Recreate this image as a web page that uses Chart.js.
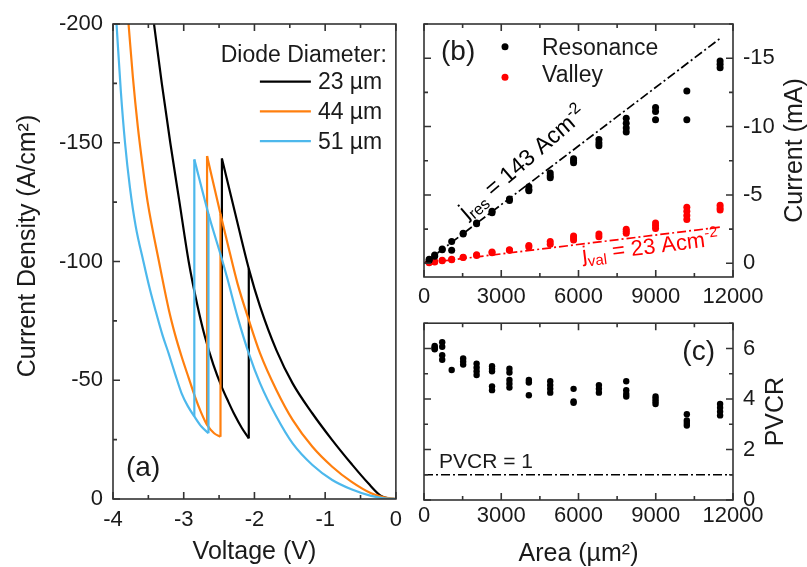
<!DOCTYPE html>
<html>
<head>
<meta charset="utf-8">
<script src="https://cdn.jsdelivr.net/npm/chart.js@4.4.0/dist/chart.umd.min.js"></script>
<style>
  html, body { margin: 0; padding: 0; background: #fff; overflow: hidden; }
  body { width: 807px; height: 567px; position: relative; }
  canvas { position: absolute; }
</style>
</head>
<body>
<canvas id="ivChart" width="410" height="567" style="left:0;top:0"></canvas>
<canvas id="currentChart" width="397" height="310" style="left:410px;top:0"></canvas>
<canvas id="pvcrChart" width="397" height="272" style="left:410px;top:300px"></canvas>
<script>
// ---- (a) J-V sweeps for three mesa diameters ----
const diameters = ['23 µm', '44 µm', '51 µm'];
const lineColors = ['#000000', '#ff7f0e', '#4db8ec'];

// low-bias branch: 0 V out to the resonance peak
const lowV23 = [0, -0.1, -0.21, -0.39, -0.62, -0.9, -1.18, -1.46, -1.69, -1.92, -2.08, -2.27, -2.46];
const lowJ23 = [0, -0.2, -1.3, -6.6, -14.5, -24.8, -36, -48.7, -62.7, -81, -97, -120, -143.4];
// high-bias branch: top of the plot down to the valley
const highV23 = [-3.42, -3.31, -3.19, -3.06, -2.93, -2.81, -2.7, -2.58, -2.46, -2.37, -2.29, -2.18, -2.08];
const highJ23 = [-200, -175, -150, -125, -100, -82, -68.3, -56.5, -47, -41, -36, -30, -25.5];

const lowV44 = [0, -0.17, -0.35, -0.63, -0.9, -1.18, -1.46, -1.69, -1.92, -2.08, -2.24, -2.38, -2.48, -2.67];
const lowJ44 = [0, -0.7, -2.4, -7.3, -13.6, -22, -33.3, -45.9, -61.3, -75.4, -90.8, -107.6, -120, -144.4];
const highV44 = [-3.78, -3.72, -3.65, -3.58, -3.51, -3.35, -3.21, -3.12, -3.03, -2.93, -2.84, -2.755, -2.67, -2.57, -2.48];
const highJ44 = [-200, -178, -157, -140, -125, -100, -79.6, -69, -60, -51, -43, -36.5, -31.2, -27.7, -26.2];

const lowV51 = [0, -0.17, -0.35, -0.63, -0.9, -1.18, -1.46, -1.69, -1.92, -2.08, -2.24, -2.38, -2.45, -2.65, -2.85];
const lowJ51 = [0, -0.3, -1.3, -4.1, -8, -14.3, -23.4, -34.7, -48.7, -61.3, -76.8, -92.5, -100, -120, -143];
const highV51 = [-3.95, -3.89, -3.83, -3.76, -3.68, -3.57, -3.48, -3.4, -3.3, -3.21, -3.12, -3.03, -2.94, -2.85, -2.75, -2.65];
const highJ51 = [-200, -172, -150, -131, -115, -100, -88.5, -79.5, -69, -61, -52.5, -44.5, -39, -34.8, -30.5, -27.7];

// ---- (b) peak and valley current per device ----
const resArea = [201, 201, 415, 415, 707, 707, 1075, 1075, 1521, 1521, 2043, 2043, 2642, 2642, 3318, 3318,
  4072, 4072, 4072, 4902, 4902, 4902, 5809, 5809, 5809, 6793, 6793, 6793, 7854, 7854, 7854, 7854,
  8992, 8992, 8992, 10207, 10207, 11499, 11499, 11499];
const resCurrent = [-0.22, -0.3, -0.52, -0.6, -1.0, -1.05, -1.6, -0.95, -2.2, -2.15, -2.9, -2.95, -3.7, -3.8, -4.6, -4.7,
  -5.6, -5.4, -5.3, -6.6, -6.4, -6.25, -7.65, -7.5, -7.35, -9.05, -8.8, -8.6, -10.6, -10.25, -9.9, -9.6,
  -11.4, -11.1, -10.5, -12.6, -10.5, -14.8, -14.55, -14.3];
const valArea = [201, 201, 415, 415, 707, 707, 1075, 1075, 1521, 1521, 2043, 2043, 2642, 2642, 3318, 3318,
  4072, 4072, 4902, 4902, 5809, 5809, 5809, 6793, 6793, 7854, 7854, 7854, 8992, 8992, 8992,
  10207, 10207, 10207, 10207, 11499, 11499, 11499];
const valCurrent = [-0.05, -0.1, -0.1, -0.14, -0.18, -0.22, -0.3, -0.27, -0.45, -0.42, -0.62, -0.58, -0.82, -0.78, -1.0, -0.95,
  -1.3, -1.2, -1.6, -1.4, -2.0, -1.85, -1.7, -2.15, -1.95, -2.5, -2.35, -2.2, -2.95, -2.75, -2.55,
  -4.1, -3.8, -3.5, -3.2, -4.25, -4.05, -3.9];
// linear fits, A/cm^2
const jRes = 143;
const jVal = 23;
const fitArea = [0, 11560];

// ---- (c) peak-to-valley current ratio ----
const pvcrArea = [415, 415, 415, 415, 707, 707, 707, 707, 1075, 1521, 1521, 1521, 2043, 2043, 2043, 2043,
  2642, 2642, 2642, 2642, 2642, 3318, 3318, 3318, 3318, 3318, 4072, 4072, 4072, 4902, 4902, 4902, 4902,
  5809, 5809, 5809, 6793, 6793, 6793, 7854, 7854, 7854, 7854, 8992, 8992, 8992, 8992,
  10207, 10207, 10207, 10207, 11499, 11499, 11499, 11499];
const pvcr = [6.1, 6.05, 6.0, 5.97, 6.25, 6.07, 5.73, 5.55, 5.15, 5.6, 5.48, 5.36, 5.4, 5.25, 5.1, 4.95,
  5.3, 5.2, 5.1, 4.5, 4.35, 5.2, 5.05, 4.75, 4.6, 4.45, 4.75, 4.65, 4.15, 4.7, 4.55, 4.4, 4.25,
  4.4, 3.9, 3.85, 4.55, 4.4, 4.25, 4.7, 4.35, 4.2, 4.1, 4.1, 4.0, 3.9, 3.8,
  3.4, 3.15, 3.05, 2.95, 3.8, 3.65, 3.5, 3.35];
const pvcrUnity = 1;

const family = "'Liberation Sans', Arial, sans-serif";
const ink = '#1a1a1a';
Chart.defaults.font.family = family;
Chart.defaults.color = ink;
Chart.defaults.animation = false;

function zip(xs, ys) {
  return xs.map((x, i) => ({x: x, y: ys[i]}));
}

// one sweep = two smooth branches plus the two switching jumps
function sweepDatasets(lowV, lowJ, highV, highJ, color, order) {
  const peakV = lowV[lowV.length - 1];
  const valleyV = highV[highV.length - 1];
  const low = zip(lowV, lowJ).sort((p, q) => p.x - q.x);
  const high = zip(highV, highJ);
  const dropTo = highJ[highV.indexOf(peakV)];
  const jumpTo = lowJ[lowV.indexOf(valleyV)];
  const base = {showLine: true, borderColor: color, borderWidth: 2.2, pointRadius: 0, order: order};
  return [
    Object.assign({data: low, cubicInterpolationMode: 'monotone'}, base),
    Object.assign({data: high, cubicInterpolationMode: 'monotone'}, base),
    Object.assign({data: [{x: peakV, y: lowJ[lowJ.length - 1]}, {x: peakV, y: dropTo}]}, base),
    Object.assign({data: [{x: valleyV, y: highJ[highJ.length - 1]}, {x: valleyV, y: jumpTo}]}, base)
  ];
}

// major ticks long, half-step minor ticks short
function tickMarks(scale) {
  const major = scale.ticks.map(t => t.value);
  const half = (major[1] - major[0]) / 2;
  const out = major.map(v => [v, 7]);
  major.forEach(v => [v - half, v + half].forEach(m => {
    if (m >= scale.min - 1e-9 && m <= scale.max + 1e-9 && !out.some(o => Math.abs(o[0] - m) < 1e-9)) out.push([m, 4]);
  }));
  return out;
}

// box around the plot area with inward tick marks
function framePlugin(xSides, ySides) {
  return {
    id: 'frame',
    afterDatasetsDraw(chart) {
      const {ctx, chartArea: a, scales} = chart;
      ctx.save();
      ctx.strokeStyle = '#333';
      ctx.lineWidth = 1.6;
      ctx.beginPath();
      tickMarks(scales.x).forEach(([v, len]) => {
        const px = scales.x.getPixelForValue(v);
        if (xSides.includes('bottom')) { ctx.moveTo(px, a.bottom); ctx.lineTo(px, a.bottom - len); }
        if (xSides.includes('top')) { ctx.moveTo(px, a.top); ctx.lineTo(px, a.top + len); }
      });
      tickMarks(scales.y).forEach(([v, len]) => {
        const py = scales.y.getPixelForValue(v);
        if (ySides.includes('left')) { ctx.moveTo(a.left, py); ctx.lineTo(a.left + len, py); }
        if (ySides.includes('right')) { ctx.moveTo(a.right, py); ctx.lineTo(a.right - len, py); }
      });
      ctx.stroke();
      ctx.strokeRect(a.left, a.top, a.right - a.left, a.bottom - a.top);
      ctx.restore();
    }
  };
}

// text with sub/superscripts: pieces are [text, size, rise]
function drawRich(ctx, pieces, x, y, color) {
  let cx = x;
  ctx.fillStyle = color;
  ctx.textAlign = 'left';
  ctx.textBaseline = 'alphabetic';
  pieces.forEach(([t, size, rise]) => {
    ctx.font = size + 'px ' + family;
    ctx.fillText(t, cx, y - rise);
    cx += ctx.measureText(t).width;
  });
}

// vertical axis title reading bottom to top
function sideTitle(ctx, text, x, y) {
  ctx.save();
  ctx.translate(x, y);
  ctx.rotate(-Math.PI / 2);
  ctx.font = '25px ' + family;
  ctx.fillStyle = ink;
  ctx.textAlign = 'center';
  ctx.textBaseline = 'middle';
  ctx.fillText(text, 0, 0);
  ctx.restore();
}

function panelLabel(ctx, text, x, y, align) {
  ctx.font = '28px ' + family;
  ctx.fillStyle = ink;
  ctx.textAlign = align;
  ctx.textBaseline = 'middle';
  ctx.fillText(text, x, y);
}

const tickFont = {size: 22};
const titleFont = {size: 25};
const hiddenGrid = {display: false, drawTicks: false};
const plainNumbers = {useGrouping: false};

// ---------- (a) ----------
const sweeps = [
  [lowV23, lowJ23, highV23, highJ23],
  [lowV44, lowJ44, highV44, highJ44],
  [lowV51, lowJ51, highV51, highJ51]
];

new Chart(document.getElementById('ivChart'), {
  type: 'scatter',
  data: {
    datasets: sweeps.flatMap((s, i) => sweepDatasets(s[0], s[1], s[2], s[3], lineColors[i], 3 - i))
  },
  options: {
    responsive: false,
    events: [],
    layout: {padding: {top: 24, right: 7, left: 0, bottom: 0}},
    plugins: {legend: {display: false}, tooltip: {enabled: false}},
    scales: {
      x: {
        type: 'linear', min: -4, max: 0,
        ticks: {stepSize: 1, font: tickFont, padding: 8, maxRotation: 0},
        grid: hiddenGrid, border: {display: false},
        title: {display: true, text: 'Voltage (V)', font: titleFont, padding: {top: 0, bottom: 0}},
        afterFit(s) { s.height = 68; }
      },
      y: {
        type: 'linear', min: -200, max: 0, reverse: true,
        ticks: {stepSize: 50, font: tickFont, padding: 10},
        grid: hiddenGrid, border: {display: false},
        afterFit(s) { s.width = 113; }
      }
    }
  },
  plugins: [framePlugin(['bottom', 'top'], ['left']), {
    id: 'ivNotes',
    afterDraw(chart) {
      const {ctx, chartArea: a} = chart;
      ctx.save();
      ctx.font = '23px ' + family;
      ctx.fillStyle = ink;
      ctx.textAlign = 'right';
      ctx.textBaseline = 'alphabetic';
      ctx.fillText('Diode Diameter:', a.right - 9, a.top + 38);
      diameters.forEach((d, i) => {
        const y = a.top + 57.7 + i * 29.7;
        ctx.strokeStyle = lineColors[i];
        ctx.lineWidth = 2.2;
        ctx.beginPath();
        ctx.moveTo(a.right - 136, y);
        ctx.lineTo(a.right - 85, y);
        ctx.stroke();
        ctx.textAlign = 'left';
        ctx.textBaseline = 'middle';
        ctx.fillText(d, a.right - 78, y + 1.3);
      });
      panelLabel(ctx, '(a)', a.left + 13, a.bottom - 31, 'left');
      sideTitle(ctx, 'Current Density (A/cm²)', 28, a.top + 222);
      ctx.restore();
    }
  }]
});

// ---------- (b) ----------
const dashDot = [9, 3, 2, 3];
new Chart(document.getElementById('currentChart'), {
  type: 'scatter',
  data: {
    datasets: [
      {label: 'Resonance', data: zip(resArea, resCurrent), backgroundColor: '#000', borderWidth: 0, pointRadius: 3.5, order: 0},
      {label: 'Valley', data: zip(valArea, valCurrent), backgroundColor: '#ff0000', borderWidth: 0, pointRadius: 3.5, order: 0},
      {label: 'res fit', data: zip(fitArea, fitArea.map(A => -jRes * A * 1e-5)), showLine: true,
        borderColor: '#000', borderWidth: 1.7, borderDash: dashDot, pointRadius: 0, order: 1},
      {label: 'val fit', data: zip(fitArea, fitArea.map(A => -jVal * A * 1e-5)), showLine: true,
        borderColor: '#ff0000', borderWidth: 1.7, borderDash: dashDot, pointRadius: 0, order: 1}
    ]
  },
  options: {
    responsive: false,
    events: [],
    layout: {padding: {top: 24, right: 0, left: 14, bottom: 0}},
    plugins: {legend: {display: false}, tooltip: {enabled: false}},
    scales: {
      x: {
        type: 'linear', min: 0, max: 12000,
        ticks: {stepSize: 3000, font: tickFont, padding: 7, maxRotation: 0, format: plainNumbers},
        grid: hiddenGrid, border: {display: false},
        afterFit(s) { s.height = 33; }
      },
      y: {
        type: 'linear', position: 'right', min: -17.5, max: 1, reverse: true,
        ticks: {stepSize: 5, includeBounds: false, font: tickFont, padding: 10},
        grid: hiddenGrid, border: {display: false},
        afterFit(s) { s.width = 74; }
      }
    }
  },
  plugins: [framePlugin(['bottom', 'top'], ['left', 'right']), {
    id: 'currentNotes',
    afterDraw(chart) {
      const {ctx, chartArea: a, scales: {x: xs, y: ys}} = chart;
      ctx.save();
      // legend
      ctx.font = '23px ' + family;
      ctx.textAlign = 'left';
      ctx.textBaseline = 'middle';
      [['Resonance', '#000', 22.7, 24.5], ['Valley', '#ff0000', 53.3, 52]].forEach(([t, c, dy, ty]) => {
        ctx.fillStyle = c;
        ctx.beginPath();
        ctx.arc(a.left + 81, a.top + dy, 3.5, 0, Math.PI * 2);
        ctx.fill();
        ctx.fillStyle = ink;
        ctx.fillText(t, a.left + 118, a.top + ty);
      });
      // fit labels laid along their lines (tilt nudges the text off the line)
      const fitLabel = (j, anchor, offset, tilt, size, sub, color) => {
        const x0 = xs.getPixelForValue(anchor), y0 = ys.getPixelForValue(-j * anchor * 1e-5);
        const x1 = xs.getPixelForValue(anchor + 1000), y1 = ys.getPixelForValue(-j * (anchor + 1000) * 1e-5);
        const small = Math.round(size * 0.69);
        ctx.save();
        ctx.translate(x0, y0);
        ctx.rotate(Math.atan2(y1 - y0, x1 - x0) + tilt);
        drawRich(ctx, [['j', size, 0], [sub, small, -5], [' = ' + j + ' Acm', size, 0], ['-2', small, 9]], 0, offset, color);
        ctx.restore();
      };
      fitLabel(jRes, 1900, -9, -0.06, 23, 'res', '#000');
      fitLabel(jVal, 6090, 17.8, 0, 22, 'val', '#ff0000');
      panelLabel(ctx, '(b)', a.left + 17, a.top + 28, 'left');
      sideTitle(ctx, 'Current (mA)', a.right + 62, (a.top + a.bottom) / 2);
      ctx.restore();
    }
  }]
});

// ---------- (c) ----------
new Chart(document.getElementById('pvcrChart'), {
  type: 'scatter',
  data: {
    datasets: [
      {label: 'PVCR', data: zip(pvcrArea, pvcr), backgroundColor: '#000', borderWidth: 0, pointRadius: 3.2, order: 0},
      {label: 'unity', data: zip([0, 12000], [pvcrUnity, pvcrUnity]), showLine: true,
        borderColor: '#000', borderWidth: 1.7, borderDash: dashDot, pointRadius: 0, order: 1}
    ]
  },
  options: {
    responsive: false,
    events: [],
    layout: {padding: {top: 9, right: 0, left: 14, bottom: 0}},
    plugins: {legend: {display: false}, tooltip: {enabled: false}},
    scales: {
      x: {
        type: 'linear', min: 0, max: 12000,
        ticks: {stepSize: 3000, font: tickFont, padding: 3, maxRotation: 0, format: plainNumbers},
        grid: hiddenGrid, border: {display: false},
        title: {display: true, text: 'Area (µm²)', font: titleFont, padding: {top: 0, bottom: 3}},
        afterFit(s) { s.height = 72; }
      },
      y: {
        type: 'linear', position: 'right', min: 0, max: 7,
        ticks: {stepSize: 2, includeBounds: false, font: tickFont, padding: 10},
        grid: hiddenGrid, border: {display: false},
        afterFit(s) { s.width = 74; }
      }
    }
  },
  plugins: [framePlugin(['bottom', 'top'], ['left', 'right']), {
    id: 'pvcrNotes',
    afterDraw(chart) {
      const {ctx, chartArea: a, scales: {y: ys}} = chart;
      ctx.save();
      ctx.font = '21px ' + family;
      ctx.fillStyle = ink;
      ctx.textAlign = 'left';
      ctx.textBaseline = 'alphabetic';
      ctx.fillText('PVCR = ' + pvcrUnity, a.left + 15, ys.getPixelForValue(pvcrUnity) - 7);
      panelLabel(ctx, '(c)', a.right - 18, a.top + 29, 'right');
      sideTitle(ctx, 'PVCR', a.right + 43, (a.top + a.bottom) / 2);
      ctx.restore();
    }
  }]
});
</script>
</body>
</html>
